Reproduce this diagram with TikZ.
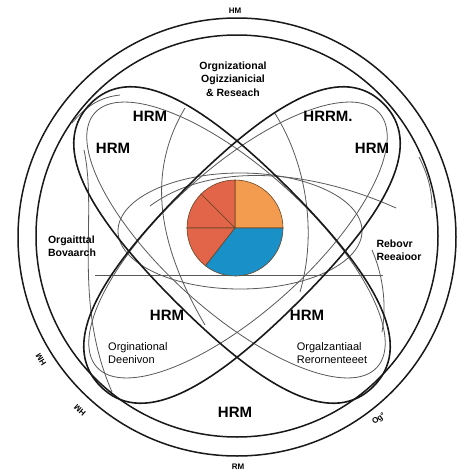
\documentclass[tikz,border=0pt]{standalone}
\usepackage{fontspec}
\setmainfont{Liberation Sans}
\definecolor{pieorange}{HTML}{F39C50}
\definecolor{piered}{HTML}{E2654A}
\definecolor{pieblue}{HTML}{1A90C8}
\begin{document}
\begin{tikzpicture}[
    x=1pt, y=-1pt,
    ring/.style={line width=1.5pt, black!90},
    lobe/.style={line width=1.6pt, black!90},
    thin/.style={line width=0.8pt, black!65},
    hrm/.style={font=\fontsize{15}{15}\selectfont\bfseries, inner sep=0pt},
    note/.style={font=\fontsize{10.5}{13.5}\selectfont\bfseries, inner sep=0pt},
    tag/.style={font=\fontsize{8}{8}\selectfont\bfseries, inner sep=0pt},
    wedge/.style={draw=brown!55!black, line width=0.6pt},
    declare function={ pr = 48; la = 200; lb = 80; lk = 0.68; }
  ]
  \fill[white] (0,0) rectangle (474,474);
  \useasboundingbox (0,0) rectangle (474,474);

  % rings
  \draw[ring] (237,237) circle[radius=219];
  \draw[ring] (237,236) circle[radius=201];

  % thin strokes
  \draw[thin] (240,231) ellipse[x radius=122, y radius=58];
  \draw[thin] (150,206) .. controls (205,165) and (300,165) .. (396,208);
  \draw[thin] (95,275) -- (383,275);
  \draw[thin] (72,123) .. controls (88,104) and (102,97) .. (120,95);
  \draw[thin] (84,150) .. controls (98,215) and (72,300) .. (112,392);
  \draw[thin] (185,108) .. controls (148,170) and (155,240) .. (205,325);
  \draw[thin] (274,112) .. controls (305,160) and (318,230) .. (300,292);
  \draw[thin] (419,157) .. controls (428,175) and (432,190) .. (432,208);
  \draw[thin] (372,250) .. controls (385,280) and (386,310) .. (382,332);
  \draw[thin, rotate around={-42:(236,240)}] (236,240) ellipse[x radius=190, y radius=72];
  \draw[thin, rotate around={42:(238,240)}] (238,240) ellipse[x radius=190, y radius=72];

  % lobes
  \foreach \cx/\ang in {232/-45, 242/45} {
    \draw[lobe, shift={(\cx,245)}, rotate=\ang]
      (la,0) .. controls (la,lk*lb) and (lk*la,lb) .. (0,lb)
      .. controls (-lk*la,lb) and (-la,lk*lb) .. (-la,0)
      .. controls (-la,-lk*lb) and (-lk*la,-lb) .. (0,-lb)
      .. controls (lk*la,-lb) and (la,-lk*lb) .. cycle;
  }

  % pie
  \coordinate (pc) at (235,228);
  \begin{scope}[shift={(pc)}, yscale=-1]
    \filldraw[wedge, fill=pieorange] (0,0) -- (0:pr) arc[start angle=0, end angle=90, radius=pr] -- cycle;
    \filldraw[wedge, fill=piered] (0,0) -- (90:pr) arc[start angle=90, end angle=135, radius=pr] -- cycle;
    \filldraw[wedge, fill=piered] (0,0) -- (135:pr) arc[start angle=135, end angle=180, radius=pr] -- cycle;
    \filldraw[wedge, fill=piered] (0,0) -- (180:pr) arc[start angle=180, end angle=232, radius=pr] -- cycle;
    \filldraw[wedge, fill=pieblue] (0,0) -- (232:pr) arc[start angle=232, end angle=360, radius=pr] -- cycle;
  \end{scope}

  % labels
  \node[hrm] (tl1) at (113,148) {HRM};
  \node[hrm] (tl2) at (150,116) {HRM};
  \node[hrm] (tr1) at (328,116) {HRRM.};
  \node[hrm] (tr2) at (372,148) {HRM};
  \node[hrm] (bl) at (167,315) {HRM};
  \node[hrm] (br) at (307,315) {HRM};
  \node[hrm] (bot) at (235,412) {HRM};

  \node[note, align=center] (top) at (233,79) {Orgnizational\\Ogizzianicial\\\& Reseach};
  \node[note, align=left] (west) at (72,246) {Orgaitttal\\Bovaarch};
  \node[note, align=left] (east) at (399,250) {Rebovr\\Reeaioor};
  \node[note, font=\fontsize{11}{12.5}\selectfont, align=left, anchor=west] (sw) at (108,353) {Orginational\\Deenivon};
  \node[note, font=\fontsize{11}{12.5}\selectfont, align=left] (se) at (332,353) {Orgalzantiaal\\Rerornenteeet};

  \node[tag] (n) at (235,11) {HM};
  \node[tag] (s) at (238,467) {RM};
  \node[tag, rotate=38] (sea) at (379,419) {Og°};
  \node[tag, rotate=122] (swa) at (41,360) {HM};
  \node[tag, rotate=138] (swb) at (80,410) {HM};
\end{tikzpicture}
\end{document}
